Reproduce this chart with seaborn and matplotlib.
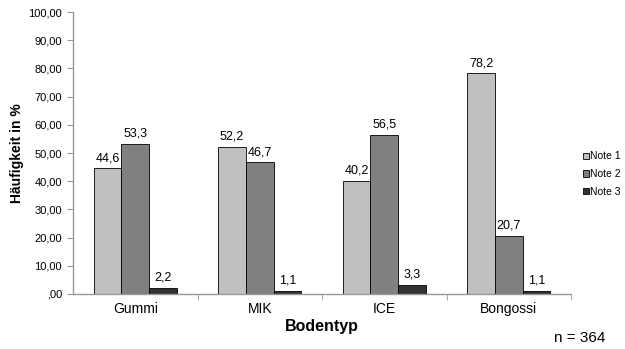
import pandas as pd
import matplotlib
matplotlib.use("Agg")
import matplotlib.pyplot as plt
import seaborn as sns
from matplotlib.ticker import FuncFormatter, FixedLocator

# values
bodentyp = ["Gummi", "MIK", "ICE", "Bongossi"]
note_1 = [44.6, 52.2, 40.2, 78.2]
note_2 = [53.3, 46.7, 56.5, 20.7]
note_3 = [2.2, 1.1, 3.3, 1.1]
noten = ["Note 1", "Note 2", "Note 3"]
farben = ["#c0c0c0", "#808080", "#333333"]

df = pd.DataFrame({
    "Bodentyp": bodentyp * 3,
    "Note": [n for n in noten for _ in bodentyp],
    "Wert": note_1 + note_2 + note_3,
})

sns.set_style("white")
plt.rcParams["font.family"] = ["Liberation Sans", "DejaVu Sans"]
plt.rcParams["text.color"] = "black"
plt.rcParams["axes.labelcolor"] = "black"
plt.rcParams["xtick.color"] = "black"
plt.rcParams["ytick.color"] = "black"

fig = plt.figure(figsize=(6.25, 3.49), dpi=100)
ax = fig.add_axes([0.1168, 0.1576, 0.7968, 0.808])

sns.barplot(data=df, x="Bodentyp", y="Wert", hue="Note", palette=farben,
            width=0.667, edgecolor="black", linewidth=0.6, ax=ax)

# value labels with german decimal comma
for cont in ax.containers:
    labels = [f"{b.get_height():.1f}".replace(".", ",") for b in cont]
    ax.bar_label(cont, labels=labels, padding=3, fontsize=9)

ax.set_ylim(0, 100)
ax.set_yticks(range(0, 101, 10))
ax.yaxis.set_major_formatter(FuncFormatter(
    lambda v, p: ",00" if v == 0 else f"{v:.2f}".replace(".", ",")))
ax.set_xlim(-0.5, 3.5)
ax.xaxis.set_major_locator(FixedLocator([0, 1, 2, 3]))
ax.xaxis.set_minor_locator(FixedLocator([0.5, 1.5, 2.5, 3.5]))
ax.tick_params(axis="x", which="major", length=0, labelsize=10, pad=6)
ax.tick_params(axis="x", which="minor", length=4, direction="out",
               color="#999999", bottom=True)
ax.tick_params(axis="y", length=4, direction="out", color="#999999",
               labelsize=8, left=True, pad=4)

for side in ["top", "right"]:
    ax.spines[side].set_visible(False)
for side in ["left", "bottom"]:
    ax.spines[side].set_color("#999999")
    ax.spines[side].set_linewidth(1.0)

ax.set_xlabel("Bodentyp", fontsize=11.5, fontweight="bold", labelpad=2)
ax.set_ylabel("Häufigkeit in %", fontsize=10, fontweight="bold", labelpad=3)

ax.legend(loc="center left", bbox_to_anchor=(0.933, 0.501),
          bbox_transform=fig.transFigure, frameon=False,
          fontsize=7.5, handlelength=0.55, handleheight=0.55,
          handletextpad=0.15, labelspacing=0.75, borderaxespad=0,
          borderpad=0)

fig.text(0.968, 0.0315, "n = 364", ha="right", va="center", fontsize=11)

plt.savefig("out.png", dpi=100)
